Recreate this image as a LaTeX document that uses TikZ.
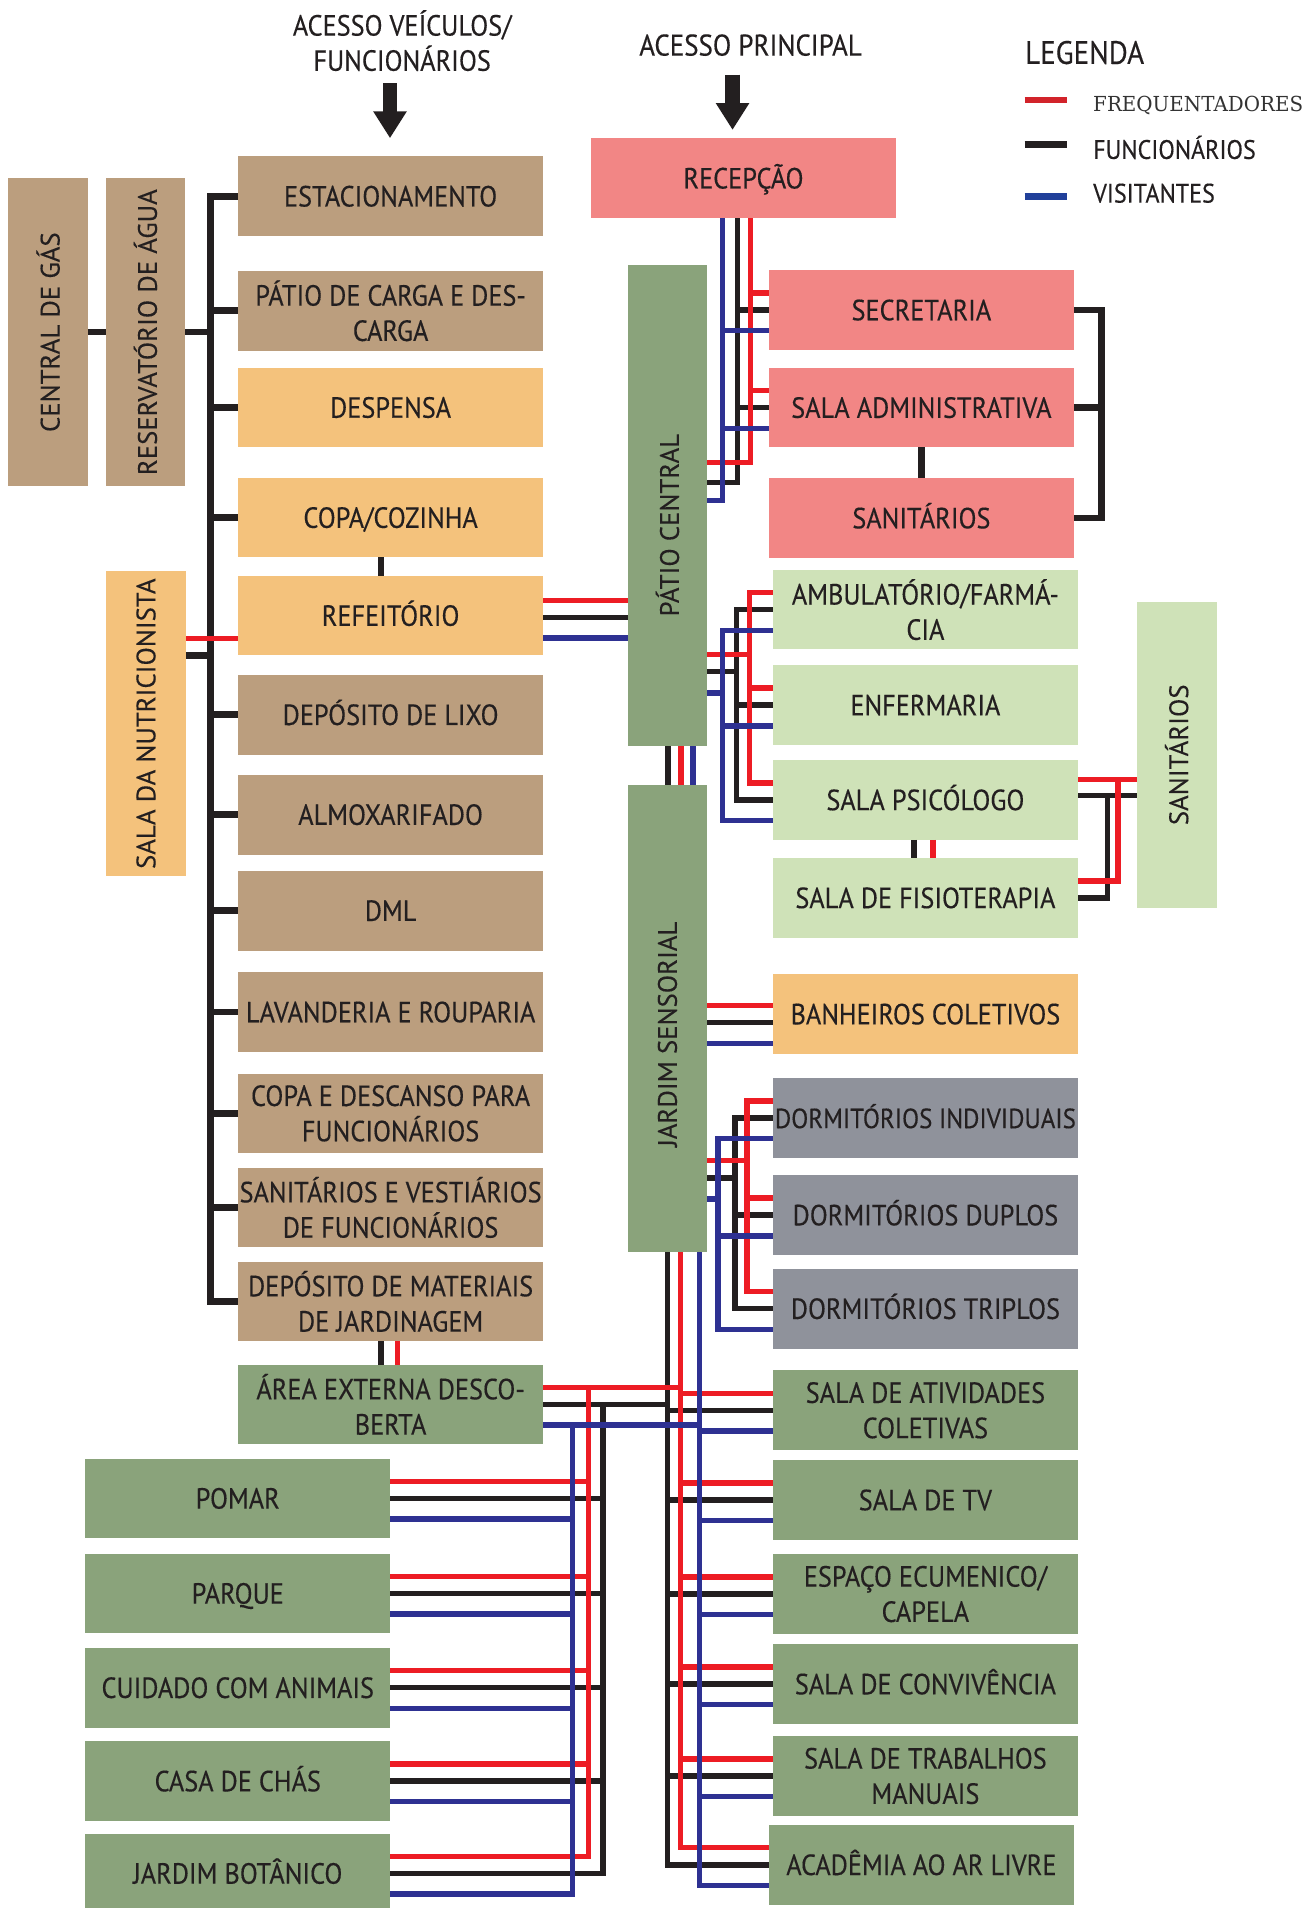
\documentclass[tikz,border=0pt]{standalone}
\usepackage{fontspec}
\setmainfont{PT Sans}[FakeStretch=0.9, FakeBold=0.3]
\newfontfamily\vertfont{PT Sans}[FakeBold=0.15]
\newfontfamily\keyserif{DejaVu Serif}[FakeStretch=0.96]
\usepackage{graphicx}
\usetikzlibrary{positioning,arrows.meta,calc}
\definecolor{svcTan}{HTML}{BB9E7E}
\definecolor{foodPeach}{HTML}{F4C27C}
\definecolor{adminPink}{HTML}{F28685}
\definecolor{gardenGreen}{HTML}{8AA37B}
\definecolor{careMint}{HTML}{CFE2B8}
\definecolor{dormGrey}{HTML}{8F929B}
\definecolor{ink}{HTML}{231F20}
\definecolor{wireRed}{HTML}{ED1C24}
\definecolor{wireBlue}{HTML}{2E3192}
\definecolor{keyRed}{HTML}{D2232A}
\definecolor{keyBlue}{HTML}{21409A}
\definecolor{soft}{HTML}{333333}
\newcommand{\roomsize}{\fontsize{12}{14.5}\selectfont}
\newcommand{\vlabel}[1]{\rotatebox{90}{\vertfont\fontsize{11}{12}\selectfont #1}}

\begin{document}
\begin{tikzpicture}[
  x=0.5pt, y=-0.5pt,
  font=\roomsize, text=ink,
  >={Triangle[width=13pt,length=11pt]},
  roombase/.style={rectangle, inner sep=0pt, outer sep=0pt, minimum width=125.5pt, minimum height=32.75pt, align=center},
  room/.style={roombase, text height=8.4pt, text depth=0pt},
  room2/.style={roombase},
  tall/.style={rectangle, inner sep=0pt, outer sep=0pt, minimum width=32.8pt, minimum height=125.5pt},
  svc/.style={fill=svcTan}, food/.style={fill=foodPeach}, admin/.style={fill=adminPink},
  garden/.style={fill=gardenGreen}, care/.style={fill=careMint}, dorm/.style={fill=dormGrey},
  staff/.style={line width=2.7pt, draw=ink},
  wK/.style={line width=2.2pt, draw=ink},
  wR/.style={line width=2.2pt, draw=wireRed},
  wB/.style={line width=2.2pt, draw=wireBlue},
  access/.style={->, line width=6pt, draw=ink},
  keyline/.style={line width=2.8pt},
  keytext/.style={anchor=base west, inner sep=0pt, font=\fontsize{11}{13}\selectfont}
]
\useasboundingbox (0,0) rectangle (1073,1568);

% service side
\node[tall, svc, minimum height=126.4pt] (central) at (39.5,273) {\vlabel{CENTRAL DE GÁS}};
\node[tall, svc, minimum height=126.4pt] (reserv) at (119.5,273) {\vlabel{RESERVATÓRIO DE ÁGUA}};
\node[tall, food] (nutri) at (120,594.7) {\vlabel{SALA DA NUTRICIONISTA}};

\node[room, svc] (estac) at (321,161.3) {ESTACIONAMENTO};
\node[room2, svc, below=14.3pt of estac] (carga) {PÁTIO DE CARGA E DES-\\CARGA};
\node[room, food, below=7pt of carga] (despensa) {DESPENSA};
\node[room, food, below=12.5pt of despensa] (copa) {COPA/COZINHA};
\node[room, food, below=7.5pt of copa] (refeit) {REFEITÓRIO};
\node[room, svc, below=8pt of refeit] (lixo) {DEPÓSITO DE LIXO};
\node[room, svc, below=8.3pt of lixo] (almox) {ALMOXARIFADO};
\node[room, svc, below=6.7pt of almox] (dml) {DML};
\node[room, svc, below=8.9pt of dml] (lav) {LAVANDERIA E ROUPARIA};
\node[room2, svc, below=8.9pt of lav] (descanso) {COPA E DESCANSO PARA\\FUNCIONÁRIOS};
\node[room2, svc, below=5.9pt of descanso] (vest) {SANITÁRIOS E VESTIÁRIOS\\DE FUNCIONÁRIOS};
\node[room2, svc, below=5.85pt of vest] (depmat) {DEPÓSITO DE MATERIAIS\\DE JARDINAGEM};
\node[room2, garden, below=9.55pt of depmat] (area) {ÁREA EXTERNA DESCO-\\BERTA};

% gardens
\node[room, garden] (pomar) at (195.4,1231.4) {POMAR};
\node[room, garden, below=6.3pt of pomar] (parque) {PARQUE};
\node[room, garden, below=6pt of parque] (cuidado) {CUIDADO COM ANIMAIS};
\node[room, garden, below=5.6pt of cuidado] (chas) {CASA DE CHÁS};
\node[room, garden, below=5.2pt of chas] (botanico) {JARDIM BOTÂNICO};

% main wing
\node[room, admin] (recep) at (611,146.5) {RECEPÇÃO};
\node[tall, garden, minimum height=197.6pt] (patio) at (548.5,415.6) {\vlabel{PÁTIO CENTRAL\hspace{16pt}}};
\node[tall, garden, minimum height=192pt] (jardim) at (548.5,837) {\vlabel{JARDIM SENSORIAL\hspace{13pt}}};
\node[room, admin] (sec) at (757.2,254.8) {SECRETARIA};
\node[room, admin, below=7.35pt of sec] (adm) {SALA ADMINISTRATIVA};
\node[room, admin, below=12.65pt of adm] (sanit) {SANITÁRIOS};
\node[room2, care] (amb) at (760.5,501) {AMBULATÓRIO/FARMÁ-\\CIA};
\node[room, care, below=6.5pt of amb] (enf) {ENFERMARIA};
\node[room, care, below=6.2pt of enf] (psic) {SALA PSICÓLOGO};
\node[room, care, below=7.5pt of psic] (fisio) {SALA DE FISIOTERAPIA};
\node[tall, care, minimum height=125.7pt] (sanit2) at (967,620.3) {\vlabel{SANITÁRIOS}};
\node[room, food, below=15pt of fisio] (banh) {BANHEIROS COLETIVOS};
\node[room, dorm, below=9.9pt of banh, font=\fontsize{11.4}{14.5}\selectfont] (dormI) {DORMITÓRIOS INDIVIDUAIS};
\node[room, dorm, below=7.2pt of dormI] (dormD) {DORMITÓRIOS DUPLOS};
\node[room, dorm, below=5.7pt of dormD] (dormT) {DORMITÓRIOS TRIPLOS};
\node[room2, garden, below=9pt of dormT] (ativ) {SALA DE ATIVIDADES\\COLETIVAS};
\node[room, garden, below=4.1pt of ativ] (tv) {SALA DE TV};
\node[room2, garden, below=5.9pt of tv] (ecum) {ESPAÇO ECUMENICO/\\CAPELA};
\node[room, garden, below=4.25pt of ecum] (conv) {SALA DE CONVIVÊNCIA};
\node[room2, garden, below=5pt of conv] (trab) {SALA DE TRABALHOS\\MANUAIS};
\node[room, garden, below=3.75pt of trab, xshift=-1.65pt] (acad) {ACADÊMIA AO AR LIVRE};

% bus lines
\coordinate (bus) at (172.9,0);
\coordinate (ckx) at (313,0);
\coordinate (daR) at (326.8,0);
\coordinate (brk) at (905,0);
\coordinate (rcK) at (606,396.6); \coordinate (rcR) at (617,380); \coordinate (rcB) at (594,411.4);
\coordinate (hlK) at (605.5,552); \coordinate (hlR) at (616,538); \coordinate (hlB) at (593.7,569.5);
\coordinate (dmK) at (604,968); \coordinate (dmR) at (614,953.6); \coordinate (dmB) at (590,985.3);
\coordinate (pjK) at (549,0); \coordinate (pjR) at (559.5,0); \coordinate (pjB) at (569.5,0);
\coordinate (loK) at (548.8,0); \coordinate (loR) at (559.4,0); \coordinate (loB) at (574.6,0);
\coordinate (gdK) at (495.5,0); \coordinate (gdR) at (483.4,0); \coordinate (gdB) at (470.3,0);
\coordinate (ssK) at (910,0); \coordinate (ssR) at (918.7,0);
\coordinate (pfK) at (751,0); \coordinate (pfR) at (766.7,0);

% staff only
\draw[staff] (estac.west) -| (bus |- depmat.west) -- (depmat.west);
\foreach \r in {carga,despensa,copa,lixo,almox,dml,lav,descanso,vest}
  \draw[staff] (\r.west) -- (\r.west -| bus);
\draw[staff] (central) -- (reserv);
\draw[staff] (reserv.east) -- (reserv.east -| bus);
\path ($(nutri.east)+(0,-56)$) coordinate (nutK);
\draw[staff] (nutK) -- (nutK -| bus);
\draw[staff] (ckx |- copa.south) -- (ckx |- refeit.north);
\draw[staff] (ckx |- depmat.south) -- (ckx |- area.north);
\draw[staff] (adm) -- (sanit);
\draw[staff] (sec.east) -| (brk |- sanit.east) -- (sanit.east);
\draw[staff] (adm.east) -- (adm.east -| brk);

% black, then red, then blue on top
\foreach \s/\o/\b in {wK/0/K,wR/-14/R,wB/17/B}{
  \draw[\s] (recep.south -| rc\b) -- (rc\b) -- (rc\b -| patio.east);
  \foreach \r in {sec,adm} \draw[\s] ($(\r.west)+(0,\o)$) -| (rc\b);
  \path ($(refeit.east)+(0,\o+1.5)$) coordinate (tmp);
  \draw[\s] (tmp) -- (tmp -| patio.west);
  \draw[\s] (pj\b |- patio.south) -- (pj\b |- jardim.north);
  \draw[\s] (hl\b -| patio.east) -- (hl\b);
  \foreach \r in {amb,enf,psic} \draw[\s] ($(\r.west)+(0,\o)$) -| (hl\b);
  \path ($(banh.west)+(0,\o+7)$) coordinate (tmp);
  \draw[\s] (tmp) -- (tmp -| jardim.east);
  \draw[\s] (dm\b -| jardim.east) -- (dm\b);
  \foreach \r in {dormI,dormD,dormT} \draw[\s] ($(\r.west)+(0,\o)$) -| (dm\b);
  \path (lo\b |- jardim.south) coordinate (bustop);
  \foreach \r in {ativ,tv,ecum,conv,trab,acad} \draw[\s] ($(\r.west)+(0,\o)$) -| (bustop);
  \path ($(area.east)+(0,\o)$) coordinate (tmp);
  \draw[\s] (tmp) -- (tmp -| lo\b);
  \path (tmp -| gd\b) coordinate (bustop);
  \foreach \r in {pomar,parque,cuidado,chas,botanico} \draw[\s] ($(\r.east)+(0,\o)$) -| (bustop);
}

% therapy rooms and toilets
\path ($(psic.east)+(0,-3.5)$) coordinate (psK);
\path ($(psic.east)+(0,-17)$) coordinate (psR);
\draw[wK] (psK) -- (psK -| sanit2.west);
\draw[wK] (psK -| ssK) |- (fisio.east);
\draw[wK] (pfK |- psic.south) -- (pfK |- fisio.north);
\draw[wR] (psR) -- (psR -| sanit2.west);
\draw[wR] (psR -| ssR) |- ($(fisio.east)+(0,-14)$);
\draw[wR] (pfR |- psic.south) -- (pfR |- fisio.north);
\draw[wR] (daR |- depmat.south) -- (daR |- area.north);
\path ($(refeit.west)+(0,19)$) coordinate (nutR);
\draw[wR] (nutR) -- (nutR -| nutri.east);

% entrances
\node[anchor=north, inner sep=0pt, align=center, font=\fontsize{12}{14.45}\selectfont] (accV) at (330.5,8) {ACESSO VEÍCULOS/\\FUNCIONÁRIOS};
\node[anchor=base, inner sep=0pt, font=\fontsize{12.3}{14}\selectfont] (accP) at (616.8,45.7) {ACESSO PRINCIPAL};
\coordinate (vTail) at (320.5,68.4);
\coordinate (pTail) at (602,61.3);
\draw[access, shorten >=7.5pt] (vTail) -- (vTail |- estac.north);
\draw[access, shorten >=3.5pt] (pTail) -- (pTail |- recep.north);

% legend
\node[anchor=base west, inner sep=0pt, font=\fontsize{13.3}{15}\selectfont] (legend) at (842,52.5) {LEGENDA};
\node[keytext, font=\keyserif\fontsize{8.5}{10}\selectfont, text=soft] (kFreq) at (898,91.8) {FREQUENTADORES};
\node[keytext] (kFunc) at (898,130.6) {FUNCIONÁRIOS};
\node[keytext] (kVis) at (898,166.5) {VISITANTES};
\draw[keyline, draw=keyRed] ([xshift=-28pt,yshift=4.8pt]kFreq.base west) -- ([xshift=-10.5pt,yshift=4.8pt]kFreq.base west);
\draw[keyline, draw=ink] ([xshift=-28pt,yshift=5.85pt]kFunc.base west) -- ([xshift=-10.5pt,yshift=5.85pt]kFunc.base west);
\draw[keyline, draw=keyBlue] ([xshift=-28pt,yshift=2.6pt]kVis.base west) -- ([xshift=-10.5pt,yshift=2.6pt]kVis.base west);

\end{tikzpicture}
\end{document}
